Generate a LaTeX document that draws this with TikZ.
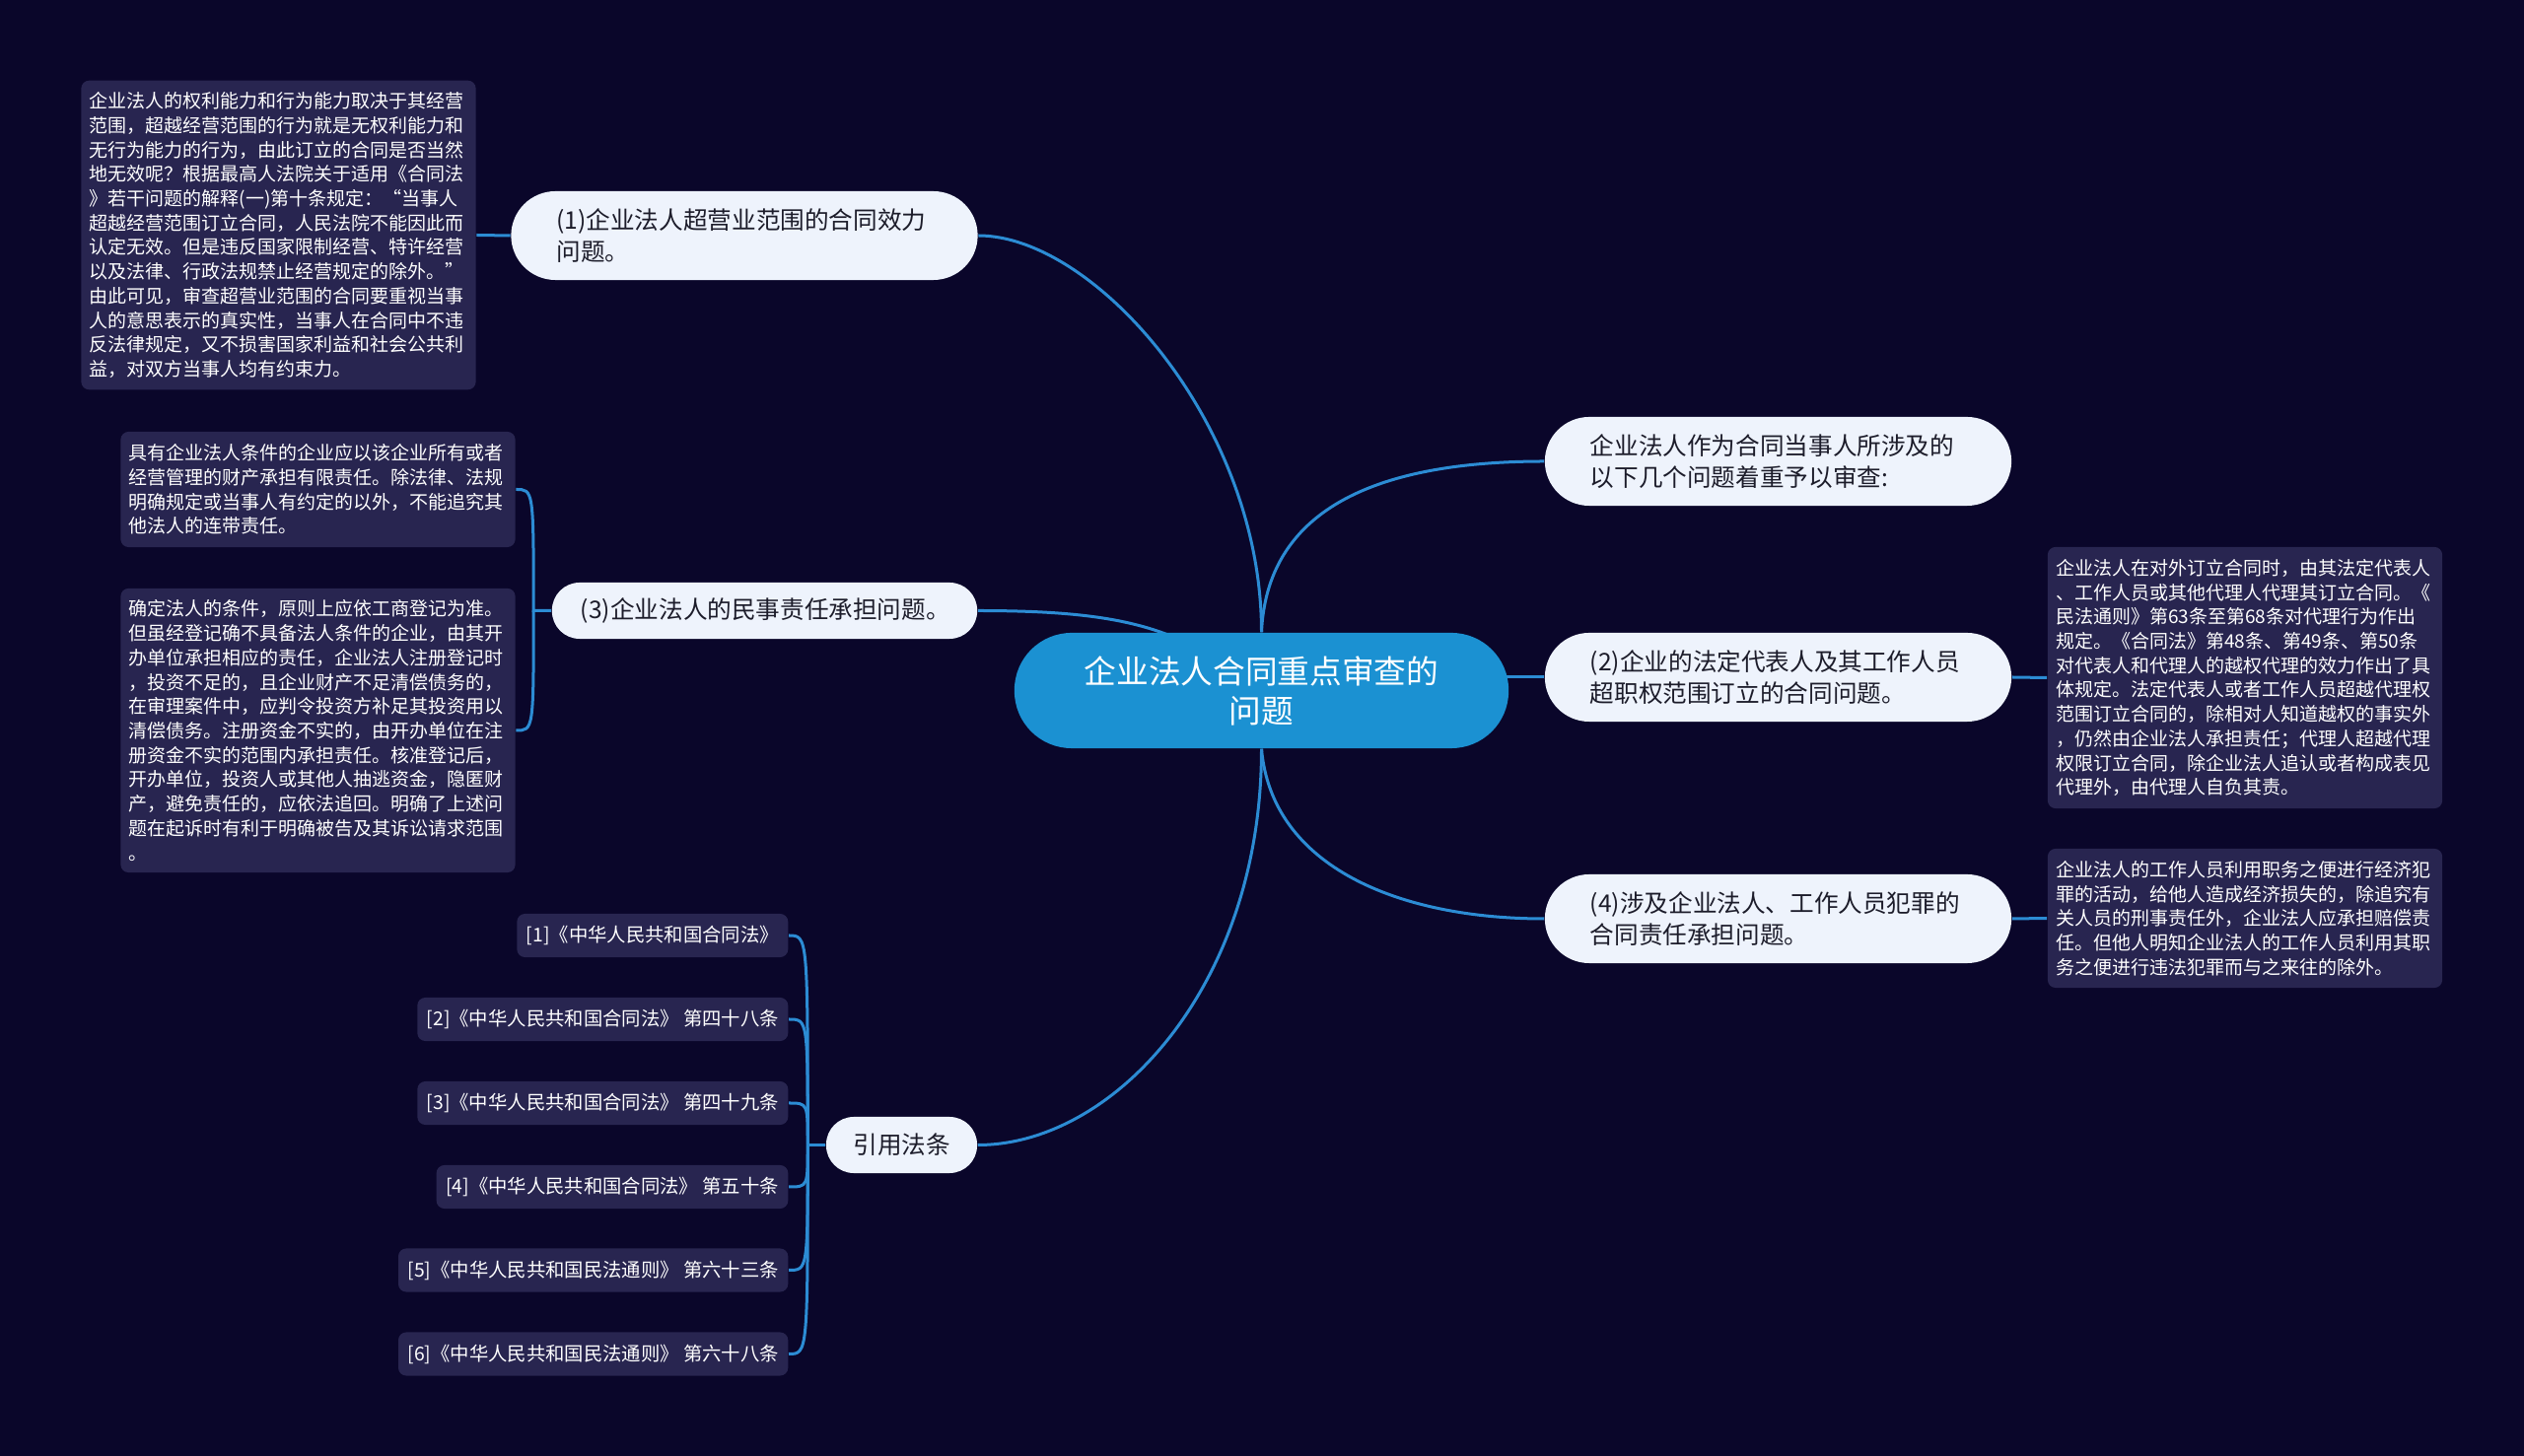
\documentclass[tikz,border=0pt]{standalone}
\usepackage{fontspec}
\setmainfont{Noto Sans CJK SC}
\usepackage{tikz}
\usetikzlibrary{backgrounds}
\definecolor{mapbg}{RGB}{10,6,42}
\definecolor{hubblue}{RGB}{27,145,210}
\definecolor{pillfill}{RGB}{238,243,252}
\definecolor{pilltext}{RGB}{28,28,42}
\definecolor{leaffill}{RGB}{40,37,80}
\definecolor{linkblue}{RGB}{44,140,212}

\begin{document}
\begin{tikzpicture}[x=0.01cm, y=-0.01cm,
  hub/.style={fill=hubblue, text=white, rounded corners=0.58cm, minimum width=5.01cm, minimum height=1.17cm, align=center, font=\fontsize{9.3}{11.4}\selectfont},
  pill/.style={fill=pillfill, text=pilltext, align=left, font=\fontsize{7}{9}\selectfont},
  pilltwo/.style={pill, rounded corners=0.45cm, minimum height=0.9cm, inner xsep=0.46cm, text width=3.81cm},
  pillone/.style={pill, rounded corners=0.28cm, minimum height=0.57cm},
  leaf/.style={fill=leaffill, text=white, rounded corners=0.08cm, align=left, text width=3.83cm, inner xsep=0.085cm, font=\fontsize{5.4}{7.03}\selectfont},
  lawref/.style={fill=leaffill, text=white, rounded corners=0.08cm, anchor=east, minimum height=0.44cm, inner xsep=0.095cm, font=\fontsize{5.5}{7}\selectfont},
  link/.style={draw=linkblue, line width=0.03cm}]

  % Root
  \node[hub] (root) at (1279.5,700.5) {企业法人合同重点审查的\\问题};

  % Topics
  \node[pilltwo] (q0) at (1803.5,468) {企业法人作为合同当事人所涉及的\\以下几个问题着重予以审查:};
  \node[pilltwo] (q1) at (755,239) {(1)企业法人超营业范围的合同效力\\问题。};
  \node[pilltwo] (q2) at (1803.5,687) {(2)企业的法定代表人及其工作人员\\超职权范围订立的合同问题。};
  \node[pillone, inner xsep=0.29cm, text width=3.73cm] (q3) at (775.5,619.5) {(3)企业法人的民事责任承担问题。};
  \node[pilltwo] (q4) at (1803.5,932) {(4)涉及企业法人、工作人员犯罪的\\合同责任承担问题。};
  \node[pillone, inner xsep=0.275cm, text width=0.98cm, align=center] (refs) at (914.5,1161.5) {引用法条};

  % Details
  \node[leaf, minimum height=3.13cm] (d1) at (282.5,238.5) {企业法人的权利能力和行为能力取决于其经营\\范围，超越经营范围的行为就是无权利能力和\\无行为能力的行为，由此订立的合同是否当然\\地无效呢？根据最高人法院关于适用《合同法\\》若干问题的解释(一)第十条规定：“当事人\\超越经营范围订立合同，人民法院不能因此而\\认定无效。但是违反国家限制经营、特许经营\\以及法律、行政法规禁止经营规定的除外。”\\由此可见，审查超营业范围的合同要重视当事\\人的意思表示的真实性，当事人在合同中不违\\反法律规定，又不损害国家利益和社会公共利\\益，对双方当事人均有约束力。};
  \node[leaf, minimum height=1.17cm] (d3a) at (322.5,496.5) {具有企业法人条件的企业应以该企业所有或者\\经营管理的财产承担有限责任。除法律、法规\\明确规定或当事人有约定的以外，不能追究其\\他法人的连带责任。};
  \node[leaf, minimum height=2.88cm] (d3b) at (322.5,741) {确定法人的条件，原则上应依工商登记为准。\\但虽经登记确不具备法人条件的企业，由其开\\办单位承担相应的责任，企业法人注册登记时\\，投资不足的，且企业财产不足清偿债务的，\\在审理案件中，应判令投资方补足其投资用以\\清偿债务。注册资金不实的，由开办单位在注\\册资金不实的范围内承担责任。核准登记后，\\开办单位，投资人或其他人抽逃资金，隐匿财\\产，避免责任的，应依法追回。明确了上述问\\题在起诉时有利于明确被告及其诉讼请求范围\\。};
  \node[leaf, minimum height=2.65cm] (d2) at (2277,687.5) {企业法人在对外订立合同时，由其法定代表人\\、工作人员或其他代理人代理其订立合同。《\\民法通则》第63条至第68条对代理行为作出\\规定。《合同法》第48条、第49条、第50条\\对代表人和代理人的越权代理的效力作出了具\\体规定。法定代表人或者工作人员超越代理权\\范围订立合同的，除相对人知道越权的事实外\\，仍然由企业法人承担责任；代理人超越代理\\权限订立合同，除企业法人追认或者构成表见\\代理外，由代理人自负其责。};
  \node[leaf, minimum height=1.41cm] (d4) at (2277,931.5) {企业法人的工作人员利用职务之便进行经济犯\\罪的活动，给他人造成经济损失的，除追究有\\关人员的刑事责任外，企业法人应承担赔偿责\\任。但他人明知企业法人的工作人员利用其职\\务之便进行违法犯罪而与之来往的除外。};

  % Cited laws
  \node[lawref] (f1) at (800,949) {[1]《中华人民共和国合同法》};
  \node[lawref] (f2) at (800,1034) {[2]《中华人民共和国合同法》 第四十八条};
  \node[lawref] (f3) at (800,1119) {[3]《中华人民共和国合同法》 第四十九条};
  \node[lawref] (f4) at (800,1204) {[4]《中华人民共和国合同法》 第五十条};
  \node[lawref] (f5) at (800,1288.5) {[5]《中华人民共和国民法通则》 第六十三条};
  \node[lawref] (f6) at (800,1373.5) {[6]《中华人民共和国民法通则》 第六十八条};

  \begin{scope}[on background layer]
    \fill[mapbg] (0,0) rectangle (2560,1477);
    % root to topics
    \draw[link] (root.north) .. controls (1279.5,430) and (1110,239) .. (q1.east);
    \draw[link] (root.north) .. controls (1285,520) and (1390,468) .. (q0.west);
    \draw[link] (q3.east) .. controls (1150,619.5) and (1200,640) .. (root.center);
    \draw[link] (root.center |- q2.west) -- (q2.west);
    \draw[link] (root.south) .. controls (1290,880) and (1420,932) .. (q4.west);
    \draw[link] (root.south) .. controls (1279.5,1000) and (1130,1161.5) .. (refs.east);
    % topics to details
    \draw[link] (q1.west) -- (d1.east);
    \draw[link] (q2.east) -- (d2.west);
    \draw[link] (q4.east) -- (d4.west);
    \draw[link] (q3.west) -- ++(-18,0) coordinate (j3) .. controls (j3 |- d3a.east) .. (d3a.east);
    \draw[link] (j3) .. controls (j3 |- d3b.east) .. (d3b.east);
    \draw[link] (refs.west) -- ++(-18,0) coordinate (jr);
    \foreach \i in {1,...,6}
      \draw[link] (jr) .. controls (jr |- f\i.east) .. (f\i.east);
  \end{scope}
\end{tikzpicture}
\end{document}
